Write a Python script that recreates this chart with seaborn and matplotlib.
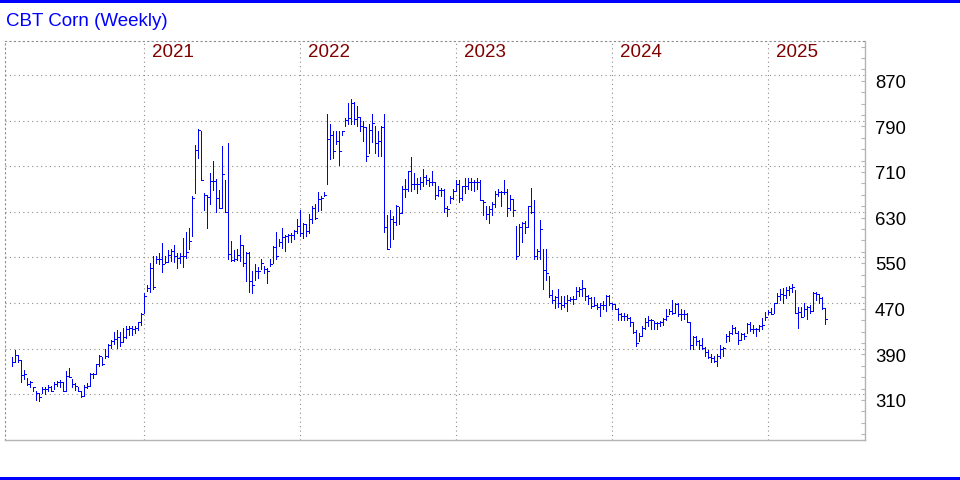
import numpy as np
import pandas as pd
import matplotlib
matplotlib.use("Agg")
import matplotlib.pyplot as plt
import matplotlib.transforms as mtransforms
from matplotlib.patches import Rectangle
from matplotlib.ticker import MultipleLocator
import seaborn as sns

# weekly HLC bars, first week ends 2020-02-28
start_week = "2020-02-28"
highs = [
    376, 388, 379, 370, 353, 338, 334, 323, 316, 313,
    322, 322, 326, 325, 331, 334, 335, 332, 350, 356,
    337, 329, 323, 316, 326, 329, 347, 347, 364, 379,
    376, 389, 399, 405, 420, 423, 420, 426, 429, 430,
    429, 429, 437, 452, 487, 502, 540, 552, 552, 558,
    575, 553, 563, 565, 571, 558, 558, 585, 595, 602,
    658, 747, 775, 772, 663, 659, 698, 720, 688, 668,
    745, 686, 751, 579, 563, 564, 590, 571, 559, 559,
    526, 538, 533, 548, 535, 532, 548, 570, 595, 583,
    602, 590, 592, 593, 599, 617, 634, 611, 608, 626,
    641, 643, 665, 658, 664, 802, 784, 772, 772, 772,
    772, 794, 821, 828, 822, 816, 796, 790, 778, 784,
    802, 780, 772, 780, 802, 624, 634, 622, 642, 638,
    676, 687, 702, 726, 699, 689, 692, 706, 695, 689,
    702, 682, 676, 671, 670, 641, 657, 670, 685, 685,
    676, 689, 689, 689, 685, 689, 685, 650, 641, 641,
    647, 667, 670, 667, 685, 670, 659, 653, 605, 608,
    612, 614, 641, 672, 650, 564, 615, 565, 565, 517,
    493, 483, 494, 483, 483, 485, 481, 483, 498, 498,
    510, 497, 485, 481, 481, 471, 470, 473, 485, 485,
    471, 469, 462, 453, 453, 450, 446, 436, 423, 418,
    429, 443, 447, 442, 438, 436, 438, 444, 460, 460,
    476, 470, 470, 460, 458, 453, 436, 413, 413, 405,
    409, 393, 388, 380, 377, 380, 396, 393, 415, 421,
    432, 428, 421, 418, 417, 435, 436, 431, 427, 432,
    444, 454, 458, 461, 471, 487, 494, 496, 499, 500,
    504, 493, 463, 463, 470, 465, 467, 490, 489, 486,
    480, 461,
]
lows = [
    360, 367, 367, 331, 336, 326, 323, 316, 300, 299,
    312, 311, 315, 315, 319, 325, 323, 315, 316, 340,
    322, 318, 315, 306, 307, 321, 325, 338, 346, 359,
    361, 373, 376, 392, 399, 392, 395, 402, 408, 414,
    414, 417, 423, 432, 452, 491, 489, 494, 540, 538,
    524, 541, 542, 543, 542, 532, 540, 533, 549, 565,
    588, 663, 724, 686, 633, 602, 643, 668, 630, 636,
    637, 630, 548, 543, 543, 546, 543, 535, 508, 489,
    487, 511, 514, 529, 523, 506, 535, 541, 548, 570,
    567, 561, 577, 577, 582, 593, 587, 585, 587, 593,
    611, 617, 632, 634, 658, 678, 723, 725, 749, 712,
    764, 781, 784, 784, 784, 781, 772, 755, 720, 734,
    752, 733, 728, 728, 595, 565, 568, 583, 607, 609,
    628, 656, 667, 667, 670, 663, 670, 676, 679, 676,
    677, 653, 658, 658, 629, 623, 646, 653, 667, 648,
    650, 663, 670, 669, 667, 670, 650, 624, 617, 610,
    624, 638, 657, 641, 661, 622, 634, 622, 548, 555,
    577, 593, 604, 628, 548, 548, 548, 495, 511, 481,
    471, 462, 463, 459, 463, 456, 473, 469, 477, 483,
    483, 475, 469, 462, 464, 460, 447, 459, 456, 467,
    460, 459, 440, 441, 440, 440, 429, 418, 395, 403,
    413, 425, 430, 425, 425, 425, 429, 431, 441, 450,
    450, 453, 447, 441, 442, 436, 390, 390, 396, 390,
    389, 377, 373, 367, 366, 360, 373, 378, 402, 403,
    415, 417, 399, 405, 407, 417, 421, 417, 413, 421,
    425, 440, 450, 450, 453, 470, 476, 471, 479, 485,
    489, 453, 427, 446, 447, 442, 453, 456, 476, 470,
    460, 434,
]
closes = [
    367, 379, 370, 344, 345, 328, 331, 322, 313, 306,
    319, 319, 322, 316, 328, 331, 332, 316, 342, 341,
    328, 325, 316, 307, 323, 325, 345, 346, 363, 378,
    364, 378, 397, 403, 407, 411, 401, 410, 424, 426,
    424, 426, 436, 450, 483, 497, 532, 499, 548, 548,
    539, 542, 555, 561, 552, 549, 552, 553, 560, 579,
    655, 739, 774, 686, 660, 656, 684, 684, 655, 637,
    697, 630, 556, 546, 548, 555, 571, 540, 558, 508,
    502, 526, 526, 540, 529, 526, 538, 569, 553, 577,
    586, 587, 589, 590, 596, 606, 593, 608, 597, 617,
    637, 620, 652, 655, 659, 757, 764, 737, 755, 737,
    771, 791, 794, 821, 792, 796, 780, 778, 728, 774,
    786, 751, 755, 778, 604, 565, 617, 612, 640, 628,
    670, 670, 701, 679, 678, 679, 683, 692, 685, 682,
    682, 660, 669, 669, 637, 635, 654, 667, 679, 655,
    675, 676, 683, 682, 683, 683, 651, 647, 626, 635,
    644, 661, 665, 665, 665, 637, 653, 634, 553, 604,
    610, 604, 641, 629, 553, 561, 600, 528, 522, 485,
    476, 481, 470, 466, 471, 476, 477, 477, 491, 495,
    497, 482, 479, 464, 467, 463, 466, 466, 483, 471,
    469, 460, 450, 447, 447, 444, 436, 419, 400, 413,
    426, 437, 441, 441, 435, 435, 436, 442, 448, 456,
    453, 469, 450, 450, 451, 436, 397, 411, 403, 396,
    392, 384, 376, 374, 369, 378, 390, 392, 413, 418,
    427, 418, 406, 415, 412, 434, 425, 425, 424, 429,
    431, 446, 454, 451, 470, 483, 486, 485, 493, 496,
    499, 453, 454, 446, 460, 463, 456, 487, 486, 479,
    461, 442,
]
price_ticks = [310, 390, 470, 550, 630, 710, 790, 870]

weeks = pd.date_range(start_week, periods=len(closes), freq="W-FRI")
# Jan 1 is a holiday, that week is dated on the Thursday before
weeks = weeks.where(~((weeks.month == 1) & (weeks.day == 1)), weeks - pd.Timedelta(days=1))
df = pd.DataFrame({"week": weeks, "high": highs, "low": lows, "close": closes})
df["pos"] = np.arange(len(df))

sns.set_theme(style="white")
plt.rcParams["font.family"] = ["Liberation Sans", "DejaVu Sans"]

blue = "#0000ff"
grid_c = "#8c8c8c"
axis_c = "#b4b4b4"
dots = (0, (1, 3))

fig = plt.figure(figsize=(9.6, 4.8), dpi=100)
ax = fig.add_axes([5.3 / 960, 1 - 440.3 / 480, 859.7 / 960, 399.6 / 480])
ax.set_facecolor("white")

ax.vlines(df["pos"], df["low"], df["high"], color=blue, lw=0.6, antialiased=False)
ax.hlines(df["close"], df["pos"], df["pos"] + 0.6, color=blue, lw=0.6, antialiased=False)

ax.set_xlim(-2.333, 284.23)
ax.set_ylim(229.3, 930.2)

# month ticks on first bar of each month, year lines on the bar before
new_month = df["week"].dt.month != df["week"].shift().dt.month
new_month.iloc[0] = False
ax.set_xticks(df.loc[new_month, "pos"])
ax.tick_params(axis="x", direction="in", length=3, width=0.8, color=axis_c, labelbottom=False)

new_year = df["week"].dt.year != df["week"].shift().dt.year
new_year.iloc[0] = False
trans = mtransforms.blended_transform_factory(ax.transData, ax.transAxes)
for _, row in df[new_year].iterrows():
    ax.axvline(row["pos"] - 1, color=grid_c, ls=dots, lw=0.8, zorder=0)
    ax.text(row["pos"] + 1.7, 0.9717, str(row["week"].year), transform=trans,
            color="#800000", fontsize=13.5, ha="left", va="center")

ax.yaxis.tick_right()
ax.set_yticks(price_ticks)
ax.yaxis.set_minor_locator(MultipleLocator(20))
ax.tick_params(axis="y", which="major", length=0, pad=7.2, labelsize=13.3, labelcolor="black")
ax.tick_params(axis="y", which="minor", direction="in", length=3, width=0.8, color=axis_c,
               right=True, left=False)
ax.yaxis.grid(True, which="major", color=grid_c, ls=dots, lw=0.8)
ax.set_axisbelow(True)
shift = mtransforms.ScaledTranslation(0, -6.5 / 100, fig.dpi_scale_trans)
for lbl in ax.get_yticklabels():
    lbl.set_transform(lbl.get_transform() + shift)

for side in ["top", "left"]:
    ax.spines[side].set_linestyle(dots)
    ax.spines[side].set_color(grid_c)
    ax.spines[side].set_linewidth(0.8)
for side in ["right", "bottom"]:
    ax.spines[side].set_color(axis_c)
    ax.spines[side].set_linewidth(1.0)

fig.text(6 / 960, 1 - 21.5 / 480, "CBT Corn (Weekly)", color=blue, fontsize=13.5,
         ha="left", va="center")
fig.add_artist(Rectangle((0, 1 - 3 / 480), 1, 3 / 480, transform=fig.transFigure,
                         color=blue, lw=0))
fig.add_artist(Rectangle((0, 0), 1, 3 / 480, transform=fig.transFigure, color=blue, lw=0))

fig.savefig("out.png", dpi=100)
